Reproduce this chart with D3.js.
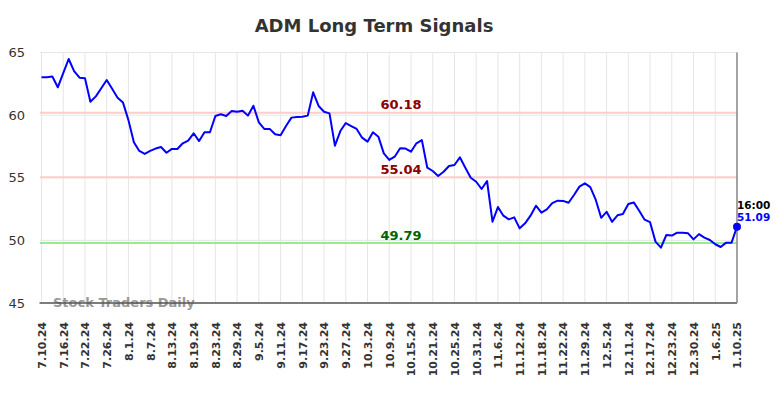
<!DOCTYPE html>
<html>
<head>
<meta charset="utf-8">
<script src="https://cdn.jsdelivr.net/npm/d3@7"></script>
<style>
  body { margin: 0; background: #fff; }
  svg { font-family: "DejaVu Sans", sans-serif; display: block; }
</style>
</head>
<body>
<div id="chart"></div>
<script>
// closing values, one per trading day from 7.10.24 to 1.10.25
var values = [
  63.02, 63.03, 63.08, 62.22, 63.35, 64.48, 63.52, 62.99, 62.94, 61.07,
  61.50, 62.15, 62.80, 62.10, 61.39, 61.00, 59.60, 57.83, 57.14, 56.90,
  57.14, 57.33, 57.45, 57.00, 57.30, 57.30, 57.75, 57.96, 58.55, 57.93,
  58.63, 58.63, 59.93, 60.07, 59.93, 60.33, 60.27, 60.35, 59.96, 60.75,
  59.42, 58.90, 58.90, 58.47, 58.40, 59.13, 59.80, 59.85, 59.87, 59.96,
  61.82, 60.73, 60.27, 60.14, 57.56, 58.73, 59.37, 59.13, 58.90, 58.20,
  57.88, 58.63, 58.28, 56.95, 56.42, 56.68, 57.35, 57.33, 57.08, 57.75,
  58.01, 55.80, 55.54, 55.14, 55.48, 55.94, 56.02, 56.63, 55.80, 55.00,
  54.68, 54.10, 54.74, 51.49, 52.66, 51.97, 51.68, 51.84, 50.96, 51.36,
  51.97, 52.77, 52.21, 52.48, 52.98, 53.17, 53.15, 53.00, 53.62, 54.29,
  54.55, 54.25, 53.25, 51.80, 52.28, 51.48, 52.00, 52.10, 52.90, 53.03,
  52.37, 51.65, 51.45, 49.90, 49.42, 50.43, 50.38, 50.61, 50.61, 50.56,
  50.08, 50.50, 50.22, 50.03, 49.69, 49.47, 49.82, 49.82, 51.09
];

// one label every 4 trading days
var dateLabels = [
  "7.10.24", "7.16.24", "7.22.24", "7.26.24", "8.1.24", "8.7.24", "8.13.24",
  "8.19.24", "8.23.24", "8.29.24", "9.5.24", "9.11.24", "9.17.24", "9.23.24",
  "9.27.24", "10.3.24", "10.9.24", "10.15.24", "10.21.24", "10.25.24",
  "10.31.24", "11.6.24", "11.12.24", "11.18.24", "11.22.24", "11.29.24",
  "12.5.24", "12.11.24", "12.17.24", "12.23.24", "12.30.24", "1.6.25", "1.10.25"
];

var yTicks = [45, 50, 55, 60, 65];

var signals = [
  {value: 60.18, line: "#ffcccc", text: "#8b0000"},
  {value: 55.04, line: "#ffcccc", text: "#8b0000"},
  {value: 49.79, line: "#90ee90", text: "#006400"}
];

var lastTime = "16:00";

var width = 784, height = 398;
var margin = {top: 52.5, right: 47, bottom: 95, left: 41.5};

var svg = d3.select("#chart").append("svg")
    .attr("width", width)
    .attr("height", height);

var x = d3.scaleLinear()
    .domain([0, values.length - 1])
    .range([margin.left, width - margin.right]);

var y = d3.scaleLinear()
    .domain([45, 65])
    .range([height - margin.bottom, margin.top]);

var tickIdx = dateLabels.map(function(d, i) { return i * 4; });

// grid
svg.append("g").selectAll("line.h")
    .data(yTicks)
    .enter().append("line")
    .attr("x1", 40).attr("x2", x(values.length - 1))
    .attr("y1", function(d) { return y(d); })
    .attr("y2", function(d) { return y(d); })
    .attr("stroke", "#e6e6e6")
    .attr("stroke-width", 1);

svg.append("g").selectAll("line.v")
    .data(tickIdx)
    .enter().append("line")
    .attr("x1", function(d) { return x(d); })
    .attr("x2", function(d) { return x(d); })
    .attr("y1", y(65)).attr("y2", y(45))
    .attr("stroke", "#e6e6e6")
    .attr("stroke-width", 1);

// signal lines
svg.append("g").selectAll("line")
    .data(signals)
    .enter().append("line")
    .attr("x1", 40).attr("x2", x(values.length - 1))
    .attr("y1", function(d) { return y(d.value); })
    .attr("y2", function(d) { return y(d.value); })
    .attr("stroke", function(d) { return d.line; })
    .attr("stroke-width", 2);

svg.append("g").selectAll("text")
    .data(signals)
    .enter().append("text")
    .attr("x", 380.5)
    .attr("y", function(d) { return y(d.value) - 3.5; })
    .attr("fill", function(d) { return d.text; })
    .attr("font-size", 13)
    .attr("font-weight", "bold")
    .text(function(d) { return d.value.toFixed(2); });

// watermark
svg.append("text")
    .attr("x", 53)
    .attr("y", 307)
    .attr("fill", "#999")
    .attr("font-size", 13)
    .attr("font-weight", "bold")
    .text("Stock Traders Daily");

// axes
var xAxis = svg.append("g")
    .attr("transform", "translate(0," + y(45) + ")")
    .call(d3.axisBottom(x)
      .tickValues(tickIdx)
      .tickSize(0)
      .tickFormat(function(d, i) { return dateLabels[i]; }));

xAxis.select(".domain").remove();
xAxis.selectAll("text")
    .attr("transform", "rotate(-90)")
    .attr("text-anchor", "end")
    .attr("x", -19)
    .attr("y", 0)
    .attr("dy", "0.35em")
    .attr("fill", "#333")
    .attr("font-size", 11)
    .attr("font-weight", "bold")
    .attr("font-family", "DejaVu Sans");

svg.append("line")
    .attr("x1", 39.5).attr("x2", x(values.length - 1))
    .attr("y1", y(45)).attr("y2", y(45))
    .attr("stroke", "#555")
    .attr("stroke-width", 1.5);

svg.append("line")
    .attr("x1", x(values.length - 1)).attr("x2", x(values.length - 1))
    .attr("y1", y(65)).attr("y2", y(45))
    .attr("stroke", "#888")
    .attr("stroke-width", 1.5);

var yAxis = svg.append("g")
    .attr("transform", "translate(25,0)")
    .call(d3.axisLeft(y).tickValues(yTicks).tickSize(0));

yAxis.select(".domain").remove();
yAxis.selectAll("text")
    .attr("x", 0)
    .attr("fill", "#333")
    .attr("font-size", 13)
    .attr("font-family", "DejaVu Sans");

// price line
var line = d3.line()
    .x(function(d, i) { return x(i); })
    .y(function(d) { return y(d); });

svg.append("path")
    .datum(values)
    .attr("fill", "none")
    .attr("stroke", "#0000ff")
    .attr("stroke-width", 2)
    .attr("stroke-linejoin", "round")
    .attr("d", line);

var lastI = values.length - 1;
svg.append("circle")
    .attr("cx", x(lastI))
    .attr("cy", y(values[lastI]))
    .attr("r", 4)
    .attr("fill", "#0000ff");

svg.append("text")
    .attr("x", x(lastI))
    .attr("y", 208.5)
    .attr("fill", "#000")
    .attr("font-size", 10.5)
    .attr("font-weight", "bold")
    .text(lastTime);

svg.append("text")
    .attr("x", x(lastI))
    .attr("y", 221)
    .attr("fill", "#0000ff")
    .attr("font-size", 10.5)
    .attr("font-weight", "bold")
    .text(values[lastI].toFixed(2));

// title
svg.append("text")
    .attr("x", 374)
    .attr("y", 32)
    .attr("text-anchor", "middle")
    .attr("fill", "#333")
    .attr("font-size", 18)
    .attr("font-weight", "bold")
    .text("ADM Long Term Signals");
</script>
</body>
</html>
